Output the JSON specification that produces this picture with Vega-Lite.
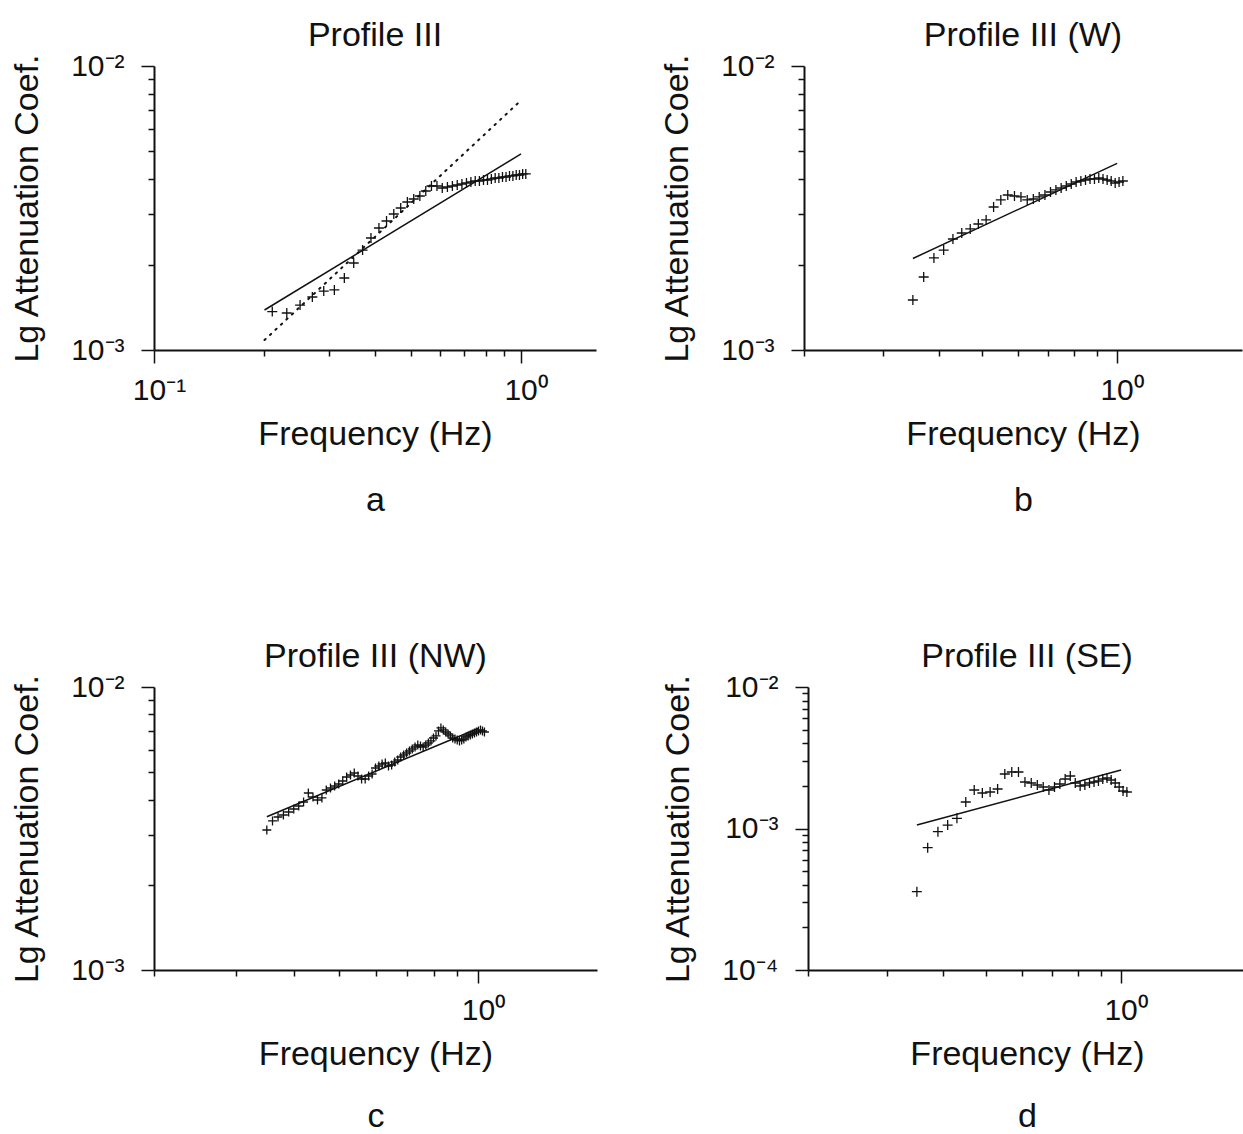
{
  "$schema": "https://vega.github.io/schema/vega-lite/v6.json",
  "padding": {"left": 10, "top": 19, "right": 0, "bottom": 0},
  "background": "white",
  "config": {
    "font": "Liberation Sans",
    "view": {"stroke": null},
    "axis": {"grid": false, "domainColor": "#111", "domainWidth": 2, "tickColor": "#111", "tickWidth": 1.5,
      "labelFont": "Liberation Sans", "labelFontSize": 30, "labelColor": "#111", "labelOverlap": false, "labelFlush": false, "labelBound": false,
      "titleFont": "Liberation Sans", "titleFontSize": 34, "titleFontWeight": "normal", "titleColor": "#111"},
    "axisX": {"labelPadding": 12, "titlePadding": 12, "titleLineHeight": 66, "labelOffset": 5},
    "axisY": {"labelPadding": 17, "titlePadding": 26},
    "title": {"fontSize": 34, "fontWeight": "normal", "color": "#111", "offset": -2, "anchor": "middle", "font": "Liberation Sans"},
    "point": {"shape": "M-1,0L1,0M0,-1L0,1", "size": 100, "filled": false, "stroke": "#111", "strokeWidth": 1.3, "opacity": 1},
    "line": {"stroke": "#111", "strokeWidth": 1.5}
  },
  "datasets": {
    "a_pts": [
      {"f": 0.21, "v": 0.001365}, {"f": 0.23, "v": 0.00135}, {"f": 0.25, "v": 0.00144}, {"f": 0.27, "v": 0.001537},
      {"f": 0.29, "v": 0.001613}, {"f": 0.31, "v": 0.001627}, {"f": 0.33, "v": 0.001793}, {"f": 0.35, "v": 0.002025},
      {"f": 0.37, "v": 0.002249}, {"f": 0.39, "v": 0.00248}, {"f": 0.41, "v": 0.002689}, {"f": 0.43, "v": 0.002846},
      {"f": 0.45, "v": 0.003012}, {"f": 0.47, "v": 0.003162}, {"f": 0.49, "v": 0.00332}, {"f": 0.51, "v": 0.003402},
      {"f": 0.53, "v": 0.003486}, {"f": 0.55, "v": 0.00363}, {"f": 0.57, "v": 0.00378}, {"f": 0.59, "v": 0.00378},
      {"f": 0.61, "v": 0.003719}, {"f": 0.63, "v": 0.00375}, {"f": 0.65, "v": 0.00378}, {"f": 0.67, "v": 0.003811},
      {"f": 0.69, "v": 0.003842}, {"f": 0.71, "v": 0.003873}, {"f": 0.73, "v": 0.003905}, {"f": 0.75, "v": 0.003936},
      {"f": 0.77, "v": 0.003936}, {"f": 0.79, "v": 0.003968}, {"f": 0.81, "v": 0.003968}, {"f": 0.83, "v": 0.004},
      {"f": 0.85, "v": 0.004033}, {"f": 0.87, "v": 0.004033}, {"f": 0.89, "v": 0.004066}, {"f": 0.91, "v": 0.004066},
      {"f": 0.93, "v": 0.0041}, {"f": 0.95, "v": 0.0041}, {"f": 0.97, "v": 0.004133}, {"f": 0.99, "v": 0.004133},
      {"f": 1.01, "v": 0.004167}, {"f": 1.03, "v": 0.004167}
    ],
    "a_fit": [{"f": 0.2, "v": 0.001383}, {"f": 1.0, "v": 0.0049}],
    "a_dot": [{"f": 0.2, "v": 0.001084}, {"f": 0.98, "v": 0.00739}],
    "b_pts": [
      {"f": 0.35, "v": 0.0015}, {"f": 0.37, "v": 0.001807}, {"f": 0.39, "v": 0.002109}, {"f": 0.41, "v": 0.002249},
      {"f": 0.43, "v": 0.002459}, {"f": 0.45, "v": 0.002582}, {"f": 0.47, "v": 0.002668}, {"f": 0.49, "v": 0.002778},
      {"f": 0.51, "v": 0.00287}, {"f": 0.53, "v": 0.003188}, {"f": 0.55, "v": 0.003375}, {"f": 0.57, "v": 0.003514},
      {"f": 0.59, "v": 0.003486}, {"f": 0.61, "v": 0.003458}, {"f": 0.63, "v": 0.003375}, {"f": 0.65, "v": 0.003402},
      {"f": 0.67, "v": 0.003458}, {"f": 0.69, "v": 0.003514}, {"f": 0.71, "v": 0.0036}, {"f": 0.73, "v": 0.00366},
      {"f": 0.75, "v": 0.003719}, {"f": 0.77, "v": 0.00378}, {"f": 0.79, "v": 0.003842}, {"f": 0.81, "v": 0.003905},
      {"f": 0.83, "v": 0.003936}, {"f": 0.85, "v": 0.003968}, {"f": 0.87, "v": 0.004}, {"f": 0.89, "v": 0.004},
      {"f": 0.91, "v": 0.004033}, {"f": 0.93, "v": 0.004}, {"f": 0.95, "v": 0.003968}, {"f": 0.97, "v": 0.003936},
      {"f": 0.99, "v": 0.003873}, {"f": 1.01, "v": 0.003905}, {"f": 1.03, "v": 0.003936}
    ],
    "b_fit": [{"f": 0.35, "v": 0.0021}, {"f": 1.0, "v": 0.00454}],
    "c_pts": [
      {"f": 0.35, "v": 0.003124}, {"f": 0.36, "v": 0.003362}, {"f": 0.37, "v": 0.003472}, {"f": 0.38, "v": 0.003529},
      {"f": 0.39, "v": 0.003616}, {"f": 0.4, "v": 0.003706}, {"f": 0.41, "v": 0.003797}, {"f": 0.42, "v": 0.003923},
      {"f": 0.43, "v": 0.004221}, {"f": 0.44, "v": 0.004086}, {"f": 0.45, "v": 0.003988}, {"f": 0.46, "v": 0.004054},
      {"f": 0.47, "v": 0.004325}, {"f": 0.48, "v": 0.004397}, {"f": 0.49, "v": 0.004469}, {"f": 0.5, "v": 0.004542},
      {"f": 0.51, "v": 0.004654}, {"f": 0.52, "v": 0.004808}, {"f": 0.53, "v": 0.004887}, {"f": 0.54, "v": 0.004967},
      {"f": 0.55, "v": 0.004848}, {"f": 0.56, "v": 0.004731}, {"f": 0.57, "v": 0.004731}, {"f": 0.58, "v": 0.004848},
      {"f": 0.59, "v": 0.004927}, {"f": 0.6, "v": 0.005174}, {"f": 0.61, "v": 0.005259}, {"f": 0.62, "v": 0.005345},
      {"f": 0.63, "v": 0.005389}, {"f": 0.64, "v": 0.005259}, {"f": 0.65, "v": 0.005302}, {"f": 0.66, "v": 0.005433},
      {"f": 0.67, "v": 0.005521}, {"f": 0.68, "v": 0.005657}, {"f": 0.69, "v": 0.00575}, {"f": 0.7, "v": 0.005844},
      {"f": 0.71, "v": 0.00594}, {"f": 0.72, "v": 0.006038}, {"f": 0.73, "v": 0.006138}, {"f": 0.74, "v": 0.006238},
      {"f": 0.75, "v": 0.006187}, {"f": 0.76, "v": 0.006138}, {"f": 0.77, "v": 0.006238}, {"f": 0.78, "v": 0.006341},
      {"f": 0.79, "v": 0.006446}, {"f": 0.8, "v": 0.006605}, {"f": 0.81, "v": 0.006714}, {"f": 0.82, "v": 0.006993},
      {"f": 0.83, "v": 0.007165}, {"f": 0.84, "v": 0.00705}, {"f": 0.85, "v": 0.006934}, {"f": 0.86, "v": 0.006823},
      {"f": 0.87, "v": 0.006714}, {"f": 0.88, "v": 0.006605}, {"f": 0.89, "v": 0.006551}, {"f": 0.9, "v": 0.006498},
      {"f": 0.91, "v": 0.006446}, {"f": 0.92, "v": 0.006498}, {"f": 0.93, "v": 0.006551}, {"f": 0.94, "v": 0.006659},
      {"f": 0.95, "v": 0.006714}, {"f": 0.96, "v": 0.006768}, {"f": 0.97, "v": 0.006823}, {"f": 0.98, "v": 0.006879},
      {"f": 0.99, "v": 0.006934}, {"f": 1.0, "v": 0.006993}, {"f": 1.01, "v": 0.00705}, {"f": 1.02, "v": 0.006993},
      {"f": 1.03, "v": 0.006934}
    ],
    "c_fit": [{"f": 0.35, "v": 0.00348}, {"f": 1.0, "v": 0.00715}],
    "d_pts": [
      {"f": 0.35, "v": 0.0003576}, {"f": 0.37, "v": 0.0007316}, {"f": 0.39, "v": 0.0009493}, {"f": 0.41, "v": 0.001058},
      {"f": 0.43, "v": 0.001181}, {"f": 0.45, "v": 0.001539}, {"f": 0.47, "v": 0.001871}, {"f": 0.49, "v": 0.001782},
      {"f": 0.51, "v": 0.001811}, {"f": 0.53, "v": 0.001902}, {"f": 0.55, "v": 0.002428}, {"f": 0.57, "v": 0.002508},
      {"f": 0.59, "v": 0.002508}, {"f": 0.61, "v": 0.002131}, {"f": 0.63, "v": 0.002097}, {"f": 0.65, "v": 0.00203},
      {"f": 0.67, "v": 0.001965}, {"f": 0.69, "v": 0.001871}, {"f": 0.71, "v": 0.001965}, {"f": 0.73, "v": 0.002063},
      {"f": 0.75, "v": 0.002238}, {"f": 0.77, "v": 0.00235}, {"f": 0.79, "v": 0.002097}, {"f": 0.81, "v": 0.001997},
      {"f": 0.83, "v": 0.00203}, {"f": 0.85, "v": 0.002097}, {"f": 0.87, "v": 0.002131}, {"f": 0.89, "v": 0.002166},
      {"f": 0.91, "v": 0.002238}, {"f": 0.93, "v": 0.002275}, {"f": 0.95, "v": 0.002202}, {"f": 0.97, "v": 0.002097},
      {"f": 0.99, "v": 0.001965}, {"f": 1.01, "v": 0.001841}, {"f": 1.03, "v": 0.001811}
    ],
    "d_fit": [{"f": 0.35, "v": 0.001059}, {"f": 1.0, "v": 0.00259}]
  },
  "vconcat": [
    {
      "hconcat": [
        {
          "width": 442, "height": 284,
          "title": "Profile III",
          "encoding": {
            "x": {"field": "f", "type": "quantitative", "scale": {"type": "log", "domain": [0.1, 1.6], "nice": false},
              "axis": {"values": [0.1, 0.2, 0.3, 0.4, 0.5, 0.6, 0.7, 0.8, 0.9, 1],
                "tickSize": {"condition": {"test": "datum.value==0.1||datum.value==1", "value": 13}, "value": 6},
                "labelExpr": "datum.value==1?'10⁰':datum.value==0.1?'10⁻¹':''",
                "title": ["Frequency (Hz)", "a"]}},
            "y": {"field": "v", "type": "quantitative", "scale": {"type": "log", "domain": [0.001, 0.01], "nice": false},
              "axis": {"values": [0.001, 0.002, 0.003, 0.004, 0.005, 0.006, 0.007, 0.008, 0.009, 0.01],
                "tickSize": {"condition": {"test": "datum.value==0.01||datum.value==0.001", "value": 13}, "value": 6},
                "labelExpr": "datum.value==0.01?'10⁻²':datum.value==0.001?'10⁻³':''",
                "title": "Lg Attenuation Coef."}}
          },
          "layer": [
            {"data": {"name": "a_dot"}, "mark": {"type": "line", "strokeDash": [1.5, 6], "strokeWidth": 2, "strokeCap": "round"}, "encoding": {}},
            {"data": {"name": "a_fit"}, "mark": {"type": "line"}, "encoding": {}},
            {"data": {"name": "a_pts"}, "mark": {"type": "point"}}
          ]
        },
        {
          "width": 438, "height": 284,
          "title": "Profile III (W)",
          "encoding": {
            "x": {"field": "f", "type": "quantitative", "scale": {"type": "log", "domain": [0.2, 1.9], "nice": false},
              "axis": {"values": [0.2, 0.3, 0.4, 0.5, 0.6, 0.7, 0.8, 0.9, 1],
                "tickSize": {"condition": {"test": "datum.value==1", "value": 13}, "value": 6},
                "labelExpr": "datum.value==1?'10⁰':''",
                "title": ["Frequency (Hz)", "b"]}},
            "y": {"field": "v", "type": "quantitative", "scale": {"type": "log", "domain": [0.001, 0.01], "nice": false},
              "axis": {"values": [0.001, 0.002, 0.003, 0.004, 0.005, 0.006, 0.007, 0.008, 0.009, 0.01],
                "tickSize": {"condition": {"test": "datum.value==0.01||datum.value==0.001", "value": 13}, "value": 6},
                "labelExpr": "datum.value==0.01?'10⁻²':datum.value==0.001?'10⁻³':''",
                "title": "Lg Attenuation Coef."}}
          },
          "layer": [
            {"data": {"name": "b_fit"}, "mark": {"type": "line"}, "encoding": {}},
            {"data": {"name": "b_pts"}, "mark": {"type": "point"}}
          ]
        }
      ],
      "spacing": 64
    },
    {
      "hconcat": [
        {
          "width": 443, "height": 283,
          "title": "Profile III (NW)",
          "encoding": {
            "x": {"field": "f", "type": "quantitative", "scale": {"type": "log", "domain": [0.2, 1.8], "nice": false},
              "axis": {"values": [0.2, 0.3, 0.4, 0.5, 0.6, 0.7, 0.8, 0.9, 1],
                "tickSize": {"condition": {"test": "datum.value==1", "value": 13}, "value": 6},
                "labelExpr": "datum.value==1?'10⁰':''",
                "titleLineHeight": 62,
                "title": ["Frequency (Hz)", "c"]}},
            "y": {"field": "v", "type": "quantitative", "scale": {"type": "log", "domain": [0.001, 0.01], "nice": false},
              "axis": {"values": [0.001, 0.002, 0.003, 0.004, 0.005, 0.006, 0.007, 0.008, 0.009, 0.01],
                "tickSize": {"condition": {"test": "datum.value==0.01||datum.value==0.001", "value": 13}, "value": 6},
                "labelExpr": "datum.value==0.01?'10⁻²':datum.value==0.001?'10⁻³':''",
                "title": "Lg Attenuation Coef."}}
          },
          "layer": [
            {"data": {"name": "c_fit"}, "mark": {"type": "line"}, "encoding": {}},
            {"data": {"name": "c_pts"}, "mark": {"type": "point", "size": 80}}
          ]
        },
        {
          "width": 438, "height": 283,
          "title": "Profile III (SE)",
          "encoding": {
            "x": {"field": "f", "type": "quantitative", "scale": {"type": "log", "domain": [0.2, 1.9], "nice": false},
              "axis": {"values": [0.2, 0.3, 0.4, 0.5, 0.6, 0.7, 0.8, 0.9, 1],
                "tickSize": {"condition": {"test": "datum.value==1", "value": 13}, "value": 6},
                "labelExpr": "datum.value==1?'10⁰':''",
                "titleLineHeight": 62,
                "title": ["Frequency (Hz)", "d"]}},
            "y": {"field": "v", "type": "quantitative", "scale": {"type": "log", "domain": [0.0001, 0.01], "nice": false},
              "axis": {"values": [0.0001, 0.0002, 0.0003, 0.0004, 0.0005, 0.0006, 0.0007, 0.0008, 0.0009, 0.001, 0.002, 0.003, 0.004, 0.005, 0.006, 0.007, 0.008, 0.009, 0.01],
                "tickSize": {"condition": {"test": "datum.value==0.01||datum.value==0.001||datum.value==0.0001", "value": 13}, "value": 6},
                "labelExpr": "datum.value==0.01?'10⁻²':datum.value==0.001?'10⁻³':datum.value==0.0001?'10⁻⁴':''",
                "title": "Lg Attenuation Coef."}}
          },
          "layer": [
            {"data": {"name": "d_fit"}, "mark": {"type": "line"}, "encoding": {}},
            {"data": {"name": "d_pts"}, "mark": {"type": "point"}}
          ]
        }
      ],
      "spacing": 64
    }
  ],
  "spacing": 123
}
